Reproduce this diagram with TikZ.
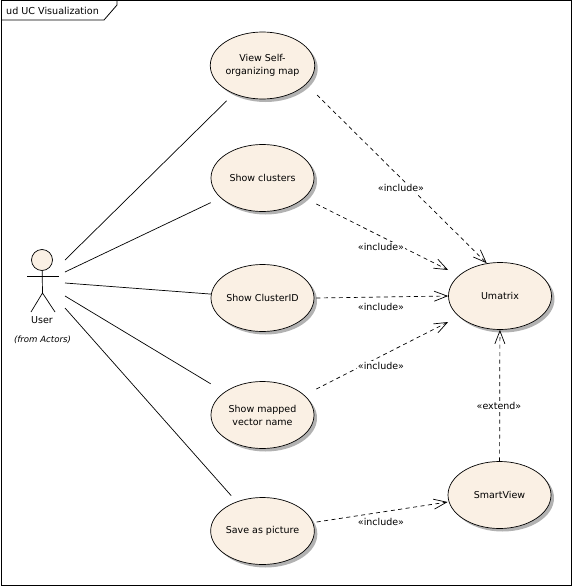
\documentclass[tikz,border=0pt]{standalone}
\usepackage{fontspec}
\setmainfont{DejaVu Sans}
\usetikzlibrary{arrows.meta,shadows,shapes.geometric}

\definecolor{casefill}{RGB}{250,240,228}

\tikzset{
  usecase/.style={draw,ellipse,fill=casefill,line width=0.7pt,minimum width=103pt,minimum height=67pt,inner sep=0pt,align=center,font=\fontsize{9.5}{13}\selectfont,
    drop shadow={shadow xshift=3pt,shadow yshift=-3pt,fill=black!30,opacity=1}},
  assoc/.style={line width=0.7pt},
  depends/.style={line width=0.7pt,dash pattern=on 4pt off 3.5pt,-{Straight Barb[length=13pt,width=10pt,line width=0.7pt]}},
  stereo/.style={fill=white,inner sep=1pt,font=\fontsize{9.5}{10}\selectfont}
}

\begin{document}
\begin{tikzpicture}[x=1pt,y=-1pt]

\useasboundingbox (0,0) rectangle (572,586);

% Draw the frame
\draw[line width=1pt] (1,1) rectangle (571,585);
\draw[line width=0.8pt] (1,20) -- (104,20) -- (117,5) -- (117,1);
\node[anchor=west,inner sep=0pt,font=\fontsize{9.6}{11}\selectfont] (title) at (6,10.5) {ud UC Visualization};

% Draw the use cases
\node[usecase] (view) at (262.5,65.5) {View Self-\\organizing map};
\node[usecase] (clusters) at (262.5,178) {Show clusters};
\node[usecase] (clusterid) at (262.5,298) {Show ClusterID};
\node[usecase] (mapped) at (262.5,415) {Show mapped\\vector name};
\node[usecase] (picture) at (262.5,531) {Save as picture};
\node[usecase] (umatrix) at (500,296) {Umatrix};
\node[usecase] (smartview) at (499.5,495) {SmartView};

% Draw the actor
\node[draw,circle,fill=casefill,line width=0.7pt,minimum size=21pt,inner sep=0pt] (head) at (42,260) {};
\coordinate (hip) at (42.5,293);
\draw[assoc] (head) -- (hip);
\draw[assoc] (27,276) -- (59,276);
\draw[assoc] (31,312) -- (hip) -- (55,312);
\node[font=\fontsize{9.5}{11}\selectfont] (user) at (42,320) {User};
\node[font=\fontsize{8.6}{10}\selectfont\itshape] (from) at (42.5,340) {(from Actors)};

% Draw the associations
\foreach \name/\yy/\gap in {view/260/10,clusters/272/11,clusterid/283/0,mapped/296/16,picture/308/8}
  {
  \coordinate (start\name) at (65,\yy);
  \draw[assoc,shorten >=\gap pt] (start\name) -- (\name);
  }

% Draw the dependencies
\draw[depends] ([xshift=2pt,yshift=-29.5pt]view.east) -- (umatrix.112);
\draw[depends] ([xshift=2pt,yshift=-26pt]clusters.east) -- ([yshift=26pt]umatrix.west);
\draw[depends] ([xshift=2pt]clusterid.east) -- (umatrix.west);
\draw[depends] ([xshift=2pt,yshift=26pt]mapped.east) -- ([yshift=-26pt]umatrix.west);
\draw[depends] ([xshift=2pt,yshift=9pt]picture.east) -- ([yshift=-7pt]smartview.west);
\draw[depends] (smartview) -- (umatrix);

% Labels for the dependencies
\node[stereo] (incA) at (401,188) {«include»};
\node[stereo] (incB) at (381,247) {«include»};
\node[stereo] (incC) at (381,307) {«include»};
\node[stereo] (incD) at (381,366) {«include»};
\node[stereo] (incE) at (381,522) {«include»};
\node[stereo] (ext) at (499,406) {«extend»};

\end{tikzpicture}
\end{document}
